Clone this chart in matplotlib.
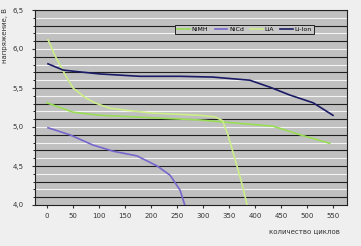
import matplotlib
matplotlib.use("Agg")
import matplotlib.pyplot as plt
import numpy as np

# cycles / voltage
nimh_x = [0, 50, 102, 198, 294, 346, 435, 487, 544]
nimh_y = [5.31, 5.19, 5.15, 5.12, 5.09, 5.06, 5.01, 4.90, 4.79]

nicd_x = [2, 44, 88, 127, 173, 212, 237, 256, 265]
nicd_y = [4.99, 4.90, 4.77, 4.69, 4.63, 4.50, 4.38, 4.19, 4.00]

lia_x = [2, 15, 35, 50, 73, 92, 121, 198, 294, 323, 338, 348, 362, 373, 385]
lia_y = [6.12, 5.92, 5.67, 5.50, 5.38, 5.31, 5.24, 5.18, 5.15, 5.13, 5.08, 4.90, 4.58, 4.32, 4.00]

liion_x = [2, 31, 58, 102, 179, 256, 319, 390, 429, 467, 512, 550]
liion_y = [5.81, 5.73, 5.71, 5.68, 5.65, 5.65, 5.64, 5.60, 5.51, 5.41, 5.31, 5.15]

x_ticks = [0, 50, 100, 150, 200, 250, 300, 350, 400, 450, 500, 550]
y_ticks = [4.0, 4.5, 5.0, 5.5, 6.0, 6.5]

fig = plt.figure(figsize=(3.61, 2.46), dpi=100, facecolor="#efefef")
ax = fig.add_axes([35/361, 41/246, 312/361, 195/246])
ax.set_facecolor("#c0c0c0")

# horizontal grid every 0.1, dark and light lines alternating
for i, v in enumerate(np.arange(4.1, 6.5, 0.1)):
    col = "#202020" if i % 2 == 0 else "#f4f4f4"
    ax.axhline(v, color=col, lw=0.8, zorder=1)

ax.plot(nimh_x, nimh_y, color="#99dd55", lw=1.2, label="NiMH", zorder=3)
ax.plot(nicd_x, nicd_y, color="#7766cc", lw=1.2, label="NiCd", zorder=3)
ax.plot(lia_x, lia_y, color="#ccee88", lw=1.2, label="LiA", zorder=3)
ax.plot(liion_x, liion_y, color="#1a1a66", lw=1.2, label="Li-Ion", zorder=3)

ax.set_xlim(-23, 577)
ax.set_ylim(4.0, 6.5)
ax.set_xticks(x_ticks)
ax.set_xticklabels([str(t) for t in x_ticks])
ax.set_yticks(y_ticks)
ax.set_yticklabels([("%.1f" % t).replace(".", ",") for t in y_ticks])
ax.set_yticks(np.arange(4.0, 6.55, 0.1), minor=True)
ax.tick_params(labelsize=5, length=2, colors="#333333")
ax.tick_params(axis="x", pad=4)
ax.tick_params(axis="y", pad=6)
ax.tick_params(which="minor", length=1.5)
for s in ax.spines.values():
    s.set_linewidth(0.8)
    s.set_color("#222222")

ax.set_ylabel("напряжение, В", fontsize=5, labelpad=4, color="#333333")
ax.yaxis.set_label_coords(-0.085, 0.87)
fig.text(340/361, 1 - 231/246, "количество циклов", fontsize=5, ha="right",
         va="center", color="#333333")

leg = ax.legend(loc="upper left", bbox_to_anchor=(0.44, 0.94), ncol=4,
                fontsize=4.5, frameon=True, fancybox=False, handlelength=2,
                columnspacing=1.0, borderpad=0.3, handletextpad=0.3)
leg.get_frame().set_facecolor("#c8c8c8")
leg.get_frame().set_edgecolor("#222222")
leg.get_frame().set_linewidth(0.7)
leg.get_frame().set_alpha(1)
leg.set_zorder(5)

fig.savefig("out.png", dpi=100, facecolor=fig.get_facecolor())
